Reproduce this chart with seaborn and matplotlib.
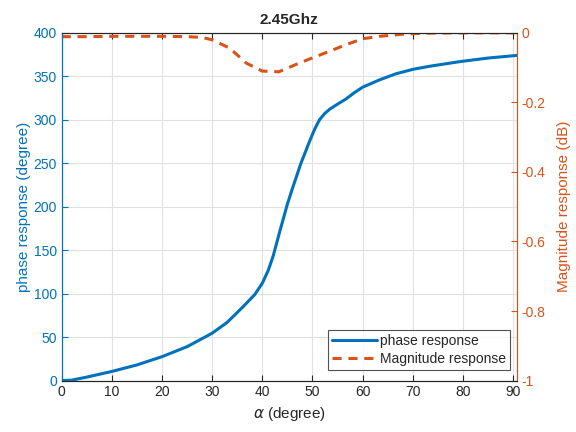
import matplotlib
matplotlib.use("Agg")
import matplotlib.pyplot as plt
import seaborn as sns
import pandas as pd

sns.set_theme(style="white")
plt.rcParams['font.family'] = ['Liberation Sans', 'DejaVu Sans']

# Phase response (degree) vs alpha
alpha_phase = [0, 2, 5, 10, 15, 20, 25, 30, 33, 36, 38.5, 40, 41.2, 42.2, 43.5, 45, 46.0,
               47.7, 49.4, 50.5, 51.4, 52.4, 53.4, 55, 56.7, 58.3, 60, 63.4, 66.7, 70,
               73.4, 79.5, 85, 90.7]
phase = [0, 0.5, 4, 10.5, 18, 27.5, 39, 54.5, 67, 84, 99, 112, 127, 144, 172, 203, 221,
         250, 275, 290, 300, 307, 312, 318, 324, 331, 337.5, 346, 353, 358,
         361.6, 367, 371, 374]

# Magnitude response (dB) vs alpha
alpha_mag = [0, 5, 10, 15, 20, 25, 28, 30, 33.5, 36.8, 40, 43.3, 46.7, 50, 53.4, 56.7,
             60, 63.4, 68, 72, 80, 90.7]
mag = [-0.011, -0.011, -0.01, -0.01, -0.01, -0.011, -0.013, -0.02, -0.044, -0.087, -0.110,
       -0.112, -0.091, -0.072, -0.053, -0.034, -0.017, -0.010, -0.004, -0.001, 0, 0]

blue = "#0072BD"
orange = "#D95319"

df_p = pd.DataFrame({"alpha": alpha_phase, "phase": phase})
df_m = pd.DataFrame({"alpha": alpha_mag, "mag": mag})

fig = plt.figure(figsize=(5.76, 4.32), dpi=100)
ax = fig.add_axes([0.107, 0.119, 0.790, 0.805])
ax2 = ax.twinx()

sns.lineplot(data=df_p, x="alpha", y="phase", ax=ax, color=blue, lw=2.2,
             label="phase response", legend=False)
sns.lineplot(data=df_m, x="alpha", y="mag", ax=ax2, color=orange, lw=2.2,
             linestyle=(0, (3, 2.2)), label="Magnitude response", legend=False)

ax.set_xlim(0, 90.7)
ax.set_ylim(0, 400)
ax2.set_ylim(-1, 0)
ax.set_xticks(range(0, 91, 10))
ax.set_yticks(range(0, 401, 50))
ax2.set_yticks([-1, -0.8, -0.6, -0.4, -0.2, 0])
ax2.set_yticklabels(["-1", "-0.8", "-0.6", "-0.4", "-0.2", "0"])

ax.grid(True, color="#e0e0e0", lw=0.8)
ax.set_axisbelow(True)

ax.set_xlabel(r"$\alpha$ (degree)", fontsize=11, color="#262626")
ax.set_ylabel("phase response (degree)", fontsize=11, color=blue, labelpad=2)
ax2.set_ylabel("Magnitude response (dB)", fontsize=11, color=orange, labelpad=8)
ax.set_title("2.45Ghz", fontsize=11, fontweight="bold", pad=6)

ax.tick_params(axis="x", direction="in", top=True, bottom=True, length=4,
               labelsize=10, colors="#262626", width=0.8)
ax.tick_params(axis="y", direction="in", left=True, length=4, labelsize=10,
               colors=blue, width=0.8)
ax2.tick_params(axis="y", direction="in", right=True, length=4, labelsize=10,
                colors=orange, width=0.8)

for a in (ax, ax2):
    for s in a.spines.values():
        s.set_linewidth(0.8)
ax.spines["top"].set_color("#262626")
ax.spines["bottom"].set_color("#262626")
ax2.spines["top"].set_color("#262626")
ax2.spines["bottom"].set_color("#262626")
ax2.spines["left"].set_color(blue)
ax2.spines["right"].set_color(orange)
ax.spines["left"].set_color(blue)
ax.spines["right"].set_color(orange)

h1, l1 = ax.get_legend_handles_labels()
h2, l2 = ax2.get_legend_handles_labels()
leg = ax2.legend(h1 + h2, l1 + l2, loc="lower right", bbox_to_anchor=(0.985, 0.03),
                 fontsize=10, frameon=True, fancybox=False, handlelength=3.2,
                 handletextpad=0.2, borderpad=0.3, labelspacing=0.3, borderaxespad=0)
leg.get_frame().set_edgecolor("#262626")
leg.get_frame().set_linewidth(0.8)

fig.savefig("out.png", dpi=100)
